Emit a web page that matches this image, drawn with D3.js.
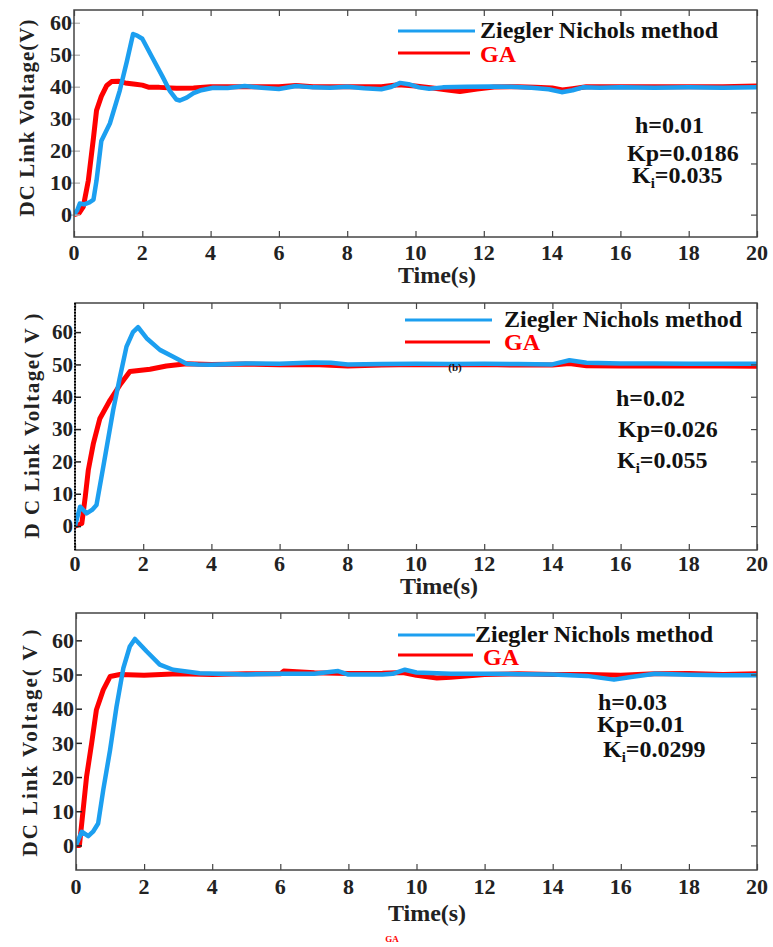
<!DOCTYPE html>
<meta charset="utf-8">
<style>
body { margin: 0; background: #fff; }
text { font-family: "Liberation Serif", "Times New Roman", serif; font-weight: bold; }
</style>
<body>
<script src="https://cdn.jsdelivr.net/npm/d3@7"></script>
<script>
var width = 773,
	height = 947;

// ---- data ----
var xTicks = [0, 2, 4, 6, 8, 10, 12, 14, 16, 18, 20];
var yTicks = [0, 10, 20, 30, 40, 50, 60];
var p1RightTicks = [0, 16, 32, 48];

// (a) h=0.01
var p1Domain = [-7, 64];
var p1ZnT = [0,0.1,0.17,0.3,0.45,0.57,0.66,0.8,1.05,1.34,1.55,1.73,1.85,2.0,2.3,2.6,2.8,3.0,3.1,3.3,3.5,3.69,4.08,4.5,5.0,5.5,6.0,6.5,7.0,7.5,8.0,8.5,9.0,9.3,9.55,9.8,10.1,10.4,10.8,11.5,12.2,12.8,13.4,13.9,14.28,14.6,14.9,15.4,16,17,18,19,20];
var p1ZnV = [0,1.5,3.5,3.2,3.8,4.7,10.7,23,28.5,38.8,48,56.5,56,55,49,43,38.8,36,35.7,36.6,38,38.8,39.7,39.6,40.2,39.7,39.3,40.2,39.8,39.7,40,39.5,39.2,40,41.2,40.8,39.8,39.4,39.8,40,40.1,40,39.7,39.2,38.3,38.9,39.8,39.7,39.8,39.7,39.8,39.7,39.8];
var p1GaT = [0,0.15,0.27,0.42,0.57,0.66,0.8,0.96,1.1,1.3,1.5,1.8,2.0,2.2,2.5,3,3.5,4,5,6,6.5,7,8,9,9.5,10,10.5,11,11.3,11.8,12.3,13,13.5,14,14.3,14.6,15,16,17,18,19,20];
var p1GaV = [0,0.5,2.4,10.7,24,32.6,37,40.4,41.6,41.7,41.2,40.8,40.5,39.8,39.8,39.5,39.6,40,40,40,40.4,40,40,40,40.6,40.2,39.6,38.9,38.5,39.3,39.9,40,39.8,39.6,39,39.4,40,40,40,40,40,40.2];

// (b) h=0.02
var p2Domain = [-7.4, 69];
var p2ZnT = [0,0.15,0.34,0.5,0.63,0.83,1.12,1.32,1.51,1.7,1.85,2.1,2.49,2.88,3.27,3.6,4,5,6,7,7.5,8,9,10,11,12,13,14,14.5,15,16,17,18,19,20];
var p2ZnV = [0,6,3.9,5,6.5,18.4,35.9,46.2,55.5,60,61.5,58.1,54.5,52.4,50.2,50,49.9,50.3,50.2,50.6,50.5,50,50.1,50.2,50.1,50.2,50.1,50,51.3,50.5,50.3,50.3,50.2,50.2,50.2];
var p2GaT = [0,0.2,0.3,0.39,0.54,0.73,1.03,1.32,1.61,2.2,2.68,3.27,4,5,6,7,8,9,10,11,12,13,14,14.5,15,16,17,18,19,20];
var p2GaV = [0,0.8,9,17.3,25.6,33.3,39,43.7,47.8,48.5,49.5,50.2,50,50.1,49.9,50,49.5,49.8,50,49.9,50,49.8,49.8,50.3,49.6,49.5,49.5,49.5,49.5,49.4];

// (c) h=0.03
var p3Domain = [-7.2, 68];
var p3ZnT = [0,0.17,0.36,0.5,0.65,0.8,1.0,1.19,1.39,1.58,1.73,2.07,2.46,2.85,3.3,3.63,4.2,5,6,7,7.7,8,9,9.3,9.66,10,11,12,13,14,15,15.8,16.3,17,18,19,20];
var p3ZnV = [0,4,2.7,4,6.4,16.2,27.9,40.6,51.9,58.2,60.4,56.8,52.9,51.4,50.8,50.4,50.2,50,50.2,50.2,51,50,50,50.2,51.4,50.6,50.2,50.2,50.1,50,49.6,48.5,49.3,50.2,49.9,49.8,49.8];
var p3GaT = [0,0.1,0.21,0.31,0.46,0.6,0.8,1.0,1.29,2,3,4,5,6,6.1,7,8,9,9.6,10,10.6,11,12,13,14,15,16,17,18,19,20];
var p3GaV = [0,0,10.4,20.1,29.9,39.7,45.5,49.4,50,49.8,50.2,50,50.2,50.2,51,50.5,50.3,50.4,50.6,49.8,49,49.2,50,50.2,50,50,49.8,50.2,50.3,50,50.2];

var seriesNames = ["Ziegler Nichols method", "GA"];
var p1Notes = ["h=0.01", "Kp=0.0186", "0.035"];
var p2Notes = ["h=0.02", "Kp=0.026", "0.055"];
var p3Notes = ["h=0.03", "Kp=0.01", "0.0299"];

var blue = "#1c9ff0",
	red = "#ff0000",
	ink = "#222";

// ---- layout of the three panels ----
var panels = [
	{top: 10, bottom: 237, left: 74, right: 757, domain: p1Domain,
	 zn: [p1ZnT, p1ZnV], ga: [p1GaT, p1GaV], notes: p1Notes,
	 yFont: 22, yLab: "DC Link Voltage(V)", yLabX: 27, yLabY: 118, yLabLen: 197,
	 xLabY: 252, timeX: 437, timeY: 283,
	 leg: {x1: 398, x2: 475, yZ: 31, yG: 53, tx: 480, tZ: 38, tG: 62, gx: 480, rx2: 470},
	 notePos: [[635, 133], [627, 161], [632, 183]],
	 leftTickColor: "#bbb", rightTicks: p1RightTicks},
	{top: 303, bottom: 550, left: 75, right: 757, domain: p2Domain,
	 zn: [p2ZnT, p2ZnV], ga: [p2GaT, p2GaV], notes: p2Notes,
	 yFont: 21, yLab: "D C Link Voltage( V )", yLabX: 32, yLabY: 426, yLabLen: 225,
	 xLabY: 563, timeX: 439, timeY: 594,
	 leg: {x1: 405, x2: 492, yZ: 320, yG: 342, tx: 504, tZ: 327, tG: 350, gx: 504, rx2: 490},
	 notePos: [[616, 406], [618, 437], [617, 468]],
	 leftTickColor: ink, dotted: true, rightTicks: yTicks},
	{top: 613, bottom: 870, left: 76, right: 757, domain: p3Domain,
	 zn: [p3ZnT, p3ZnV], ga: [p3GaT, p3GaV], notes: p3Notes,
	 yFont: 22, yLab: "DC Link Voltage( V )", yLabX: 30, yLabY: 743, yLabLen: 227,
	 xLabY: 886, timeX: 427, timeY: 921,
	 leg: {x1: 398, x2: 475, yZ: 635, yG: 655, tx: 475, tZ: 642, tG: 665, gx: 483, rx2: 473},
	 notePos: [[598, 710], [597, 732], [603, 757]],
	 leftTickColor: ink, rightTicks: yTicks}
];

var svg = d3.select("body").append("svg")
			.attr("width", width)
			.attr("height", height);

panels.forEach(function(p, k) {
	var x = d3.scaleLinear().domain([0, 20]).range([p.left, p.right]),
		y = d3.scaleLinear().domain(p.domain).range([p.bottom, p.top]);

	var g = svg.append("g");

	g.append("clipPath").attr("id", "clip" + k)
		.append("rect")
		.attr("x", p.left).attr("y", p.top)
		.attr("width", p.right - p.left).attr("height", p.bottom - p.top);

	// curves
	var line = d3.line()
		.x(function(d) { return x(d[0]); })
		.y(function(d) { return y(d[1]); });

	var gaPts = d3.zip(p.ga[0], p.ga[1]),
		znPts = d3.zip(p.zn[0], p.zn[1]);

	var curves = g.append("g").attr("clip-path", "url(#clip" + k + ")");
	curves.append("path").datum(gaPts)
		.attr("d", line)
		.style("fill", "none")
		.style("stroke", red)
		.style("stroke-width", 5)
		.style("stroke-linejoin", "round");
	curves.append("path").datum(znPts)
		.attr("d", line)
		.style("fill", "none")
		.style("stroke", blue)
		.style("stroke-width", 4.5)
		.style("stroke-linejoin", "round");

	// inward ticks
	var bottomAx = g.append("g").attr("transform", "translate(0," + p.bottom + ")")
		.call(d3.axisBottom(x).tickValues(xTicks).tickSize(-6).tickFormat(""));
	var topAx = g.append("g").attr("transform", "translate(0," + p.top + ")")
		.call(d3.axisTop(x).tickValues(xTicks).tickSize(-6).tickFormat(""));
	var leftAx = g.append("g").attr("transform", "translate(" + p.left + ",0)")
		.call(d3.axisLeft(y).tickValues(yTicks).tickSize(-6).tickFormat(""));
	var rightAx = g.append("g").attr("transform", "translate(" + p.right + ",0)")
		.call(d3.axisRight(y).tickValues(p.rightTicks).tickSize(-6).tickFormat(""));

	[bottomAx, topAx, rightAx].forEach(function(a) {
		a.select(".domain").remove();
		a.selectAll("line").style("stroke", "#444").style("stroke-width", 1.2);
	});
	leftAx.select(".domain").remove();
	leftAx.selectAll("line")
		.attr("x1", k == 0 ? -6 : 0)
		.style("stroke", p.leftTickColor).style("stroke-width", 1.5);

	// frame
	g.append("rect")
		.attr("x", p.left).attr("y", p.top)
		.attr("width", p.right - p.left).attr("height", p.bottom - p.top)
		.style("fill", "none").style("stroke", "#444").style("stroke-width", 1.5);
	if (p.dotted) {
		g.append("line")
			.attr("x1", p.left).attr("x2", p.left)
			.attr("y1", p.top).attr("y2", p.bottom)
			.style("stroke", "#000").style("stroke-width", 2)
			.style("stroke-dasharray", "1.5,1.5");
	}

	// tick labels
	g.selectAll(".xl").data(xTicks).enter().append("text")
		.attr("x", function(d) { return x(d); })
		.attr("y", p.xLabY)
		.attr("dy", "0.35em")
		.attr("text-anchor", "middle")
		.style("font-size", "22px")
		.style("fill", ink)
		.text(function(d) { return d; });

	g.selectAll(".yl").data(yTicks).enter().append("text")
		.attr("x", p.left - 2)
		.attr("y", function(d) { return y(d); })
		.attr("dy", "0.35em")
		.attr("text-anchor", "end")
		.style("font-size", p.yFont + "px")
		.style("fill", ink)
		.text(function(d) { return d; });

	// axis titles
	g.append("text")
		.attr("transform", "translate(" + p.yLabX + "," + p.yLabY + ")rotate(-90)")
		.attr("dy", "0.35em")
		.attr("text-anchor", "middle")
		.attr("textLength", p.yLabLen)
		.attr("lengthAdjust", "spacing")
		.style("font-size", "21px")
		.style("fill", ink)
		.text(p.yLab);

	g.append("text")
		.attr("x", p.timeX).attr("y", p.timeY)
		.attr("text-anchor", "middle")
		.style("font-size", "24px")
		.style("fill", ink)
		.text("Time(s)");

	// legend
	var L = p.leg;
	g.append("line")
		.attr("x1", L.x1).attr("x2", L.x2).attr("y1", L.yZ).attr("y2", L.yZ)
		.style("stroke", blue).style("stroke-width", 3);
	g.append("line")
		.attr("x1", L.x1).attr("x2", L.rx2).attr("y1", L.yG).attr("y2", L.yG)
		.style("stroke", red).style("stroke-width", 3);
	g.append("text")
		.attr("x", L.tx).attr("y", L.tZ)
		.style("font-size", "24px").style("fill", "#111")
		.text(seriesNames[0]);
	g.append("text")
		.attr("x", L.gx).attr("y", L.tG)
		.style("font-size", "24px").style("fill", red)
		.text(seriesNames[1]);

	// parameter notes
	g.append("text")
		.attr("x", p.notePos[0][0]).attr("y", p.notePos[0][1])
		.style("font-size", "24px").style("fill", "#111")
		.text(p.notes[0]);
	g.append("text")
		.attr("x", p.notePos[1][0]).attr("y", p.notePos[1][1])
		.style("font-size", "24px").style("fill", "#111")
		.text(p.notes[1]);
	var ki = g.append("text")
		.attr("x", p.notePos[2][0]).attr("y", p.notePos[2][1])
		.style("font-size", "24px").style("fill", "#111");
	ki.append("tspan").text("K");
	ki.append("tspan").attr("dy", 5).style("font-size", "15px").text("i");
	ki.append("tspan").attr("dy", -5).text("=" + p.notes[2]);
});

// stray labels from the source figure
svg.append("text")
	.attr("x", 455).attr("y", 367)
	.attr("dy", "0.35em")
	.attr("text-anchor", "middle")
	.style("font-size", "11px").style("fill", "#111")
	.text("(b)");

svg.append("text")
	.attr("x", 392).attr("y", 939)
	.attr("dy", "0.35em")
	.attr("text-anchor", "middle")
	.style("font-size", "9px").style("fill", red)
	.text("GA");

</script>
</body>
